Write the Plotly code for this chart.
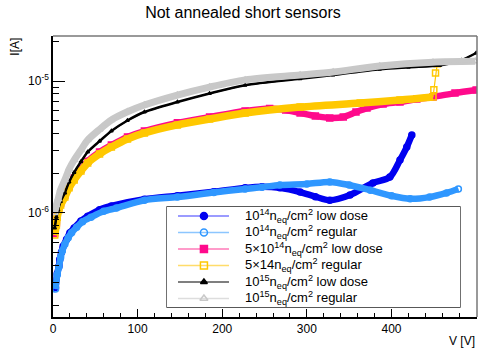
import plotly.graph_objects as go

# ---- leakage current vs bias voltage, not annealed short sensors ----

# 1e14 neq/cm2, low dose
V_1e14_ld = [3, 5, 7, 8, 10, 12, 16, 20, 25, 33, 41, 55, 69, 108, 147, 190, 227, 247, 268,
             292, 310, 327, 351, 378, 398, 410, 418, 424]
I_1e14_ld = [2.72e-7, 3.47e-7, 3.95e-7, 4.45e-7, 5.05e-7, 5.6e-7, 6.3e-7, 7.1e-7, 7.7e-7,
             8.7e-7, 9.45e-7, 1.06e-6, 1.13e-6, 1.27e-6, 1.35e-6, 1.45e-6, 1.55e-6, 1.58e-6,
             1.55e-6, 1.44e-6, 1.33e-6, 1.25e-6, 1.37e-6, 1.69e-6, 1.87e-6, 2.52e-6, 3.16e-6,
             3.90e-6]

# 1e14 neq/cm2, regular
V_1e14_reg = [3, 5, 7, 9, 11, 14, 18, 22, 28, 35, 45, 60, 75, 108, 147, 190, 227, 247, 268,
              300, 327, 350, 375, 400, 422, 445, 465, 479]
I_1e14_reg = [2.65e-7, 3.4e-7, 3.9e-7, 4.6e-7, 5.15e-7, 5.8e-7, 6.5e-7, 7.1e-7, 7.8e-7,
              8.6e-7, 9.3e-7, 1.03e-6, 1.09e-6, 1.25e-6, 1.32e-6, 1.43e-6, 1.52e-6, 1.57e-6,
              1.63e-6, 1.66e-6, 1.72e-6, 1.63e-6, 1.49e-6, 1.35e-6, 1.28e-6, 1.32e-6, 1.42e-6,
              1.52e-6]

# 5e14 neq/cm2, low dose
V_5e14_ld = [2, 4, 5, 7, 9, 14, 19, 25, 33, 41, 55, 69, 88, 108, 147, 185, 227, 256, 275,
             292, 310, 327, 343, 358, 371, 390, 410, 430, 449, 475, 500]
I_5e14_ld = [7.0e-7, 8.4e-7, 9.6e-7, 1.1e-6, 1.19e-6, 1.37e-6, 1.6e-6, 1.84e-6, 2.15e-6,
             2.47e-6, 2.9e-6, 3.27e-6, 3.77e-6, 4.18e-6, 4.82e-6, 5.33e-6, 5.93e-6, 6.2e-6,
             6.03e-6, 5.73e-6, 5.43e-6, 5.25e-6, 5.34e-6, 5.82e-6, 6.24e-6, 6.69e-6, 6.93e-6,
             7.3e-6, 7.57e-6, 8.1e-6, 8.55e-6]

# 5e14 neq/cm2, regular
V_5e14_reg = [2, 4, 5, 7, 9, 14, 19, 25, 33, 41, 55, 69, 88, 108, 147, 185, 227, 292, 363,
              410, 449, 450, 452, 454]
I_5e14_reg = [6.8e-7, 8.1e-7, 9.3e-7, 1.06e-6, 1.15e-6, 1.32e-6, 1.55e-6, 1.78e-6, 2.08e-6,
              2.39e-6, 2.8e-6, 3.16e-6, 3.64e-6, 4.04e-6, 4.65e-6, 5.15e-6, 5.73e-6, 6.35e-6,
              6.81e-6, 7.18e-6, 7.57e-6, 8.6e-6, 1.15e-5, 1.35e-5]

# 1e15 neq/cm2, low dose
V_1e15_ld = [2, 4, 6, 9, 14, 19, 25, 33, 41, 55, 69, 88, 108, 147, 185, 227, 292, 331, 386,
             420, 457, 470, 483, 500]
I_1e15_ld = [7.7e-7, 9.3e-7, 1.05e-6, 1.22e-6, 1.42e-6, 1.72e-6, 2.03e-6, 2.45e-6, 2.9e-6,
             3.5e-6, 4.18e-6, 5.02e-6, 5.82e-6, 6.93e-6, 8.05e-6, 9.3e-6, 1.04e-5, 1.11e-5,
             1.23e-5, 1.27e-5, 1.31e-5, 1.36e-5, 1.44e-5, 1.63e-5]

# 1e15 neq/cm2, regular
V_1e15_reg = [2, 4, 6, 9, 14, 19, 25, 33, 41, 55, 69, 88, 108, 147, 185, 227, 292, 331, 386,
              449, 499]
I_1e15_reg = [1.0e-6, 1.15e-6, 1.27e-6, 1.5e-6, 1.78e-6, 2.15e-6, 2.52e-6, 3.0e-6, 3.57e-6,
              4.3e-6, 5.07e-6, 5.85e-6, 6.58e-6, 7.83e-6, 9.0e-6, 1.02e-5, 1.11e-5, 1.17e-5,
              1.30e-5, 1.39e-5, 1.41e-5]

legend_labels = [
    "10<sup>14</sup>n<sub>eq</sub>/cm<sup>2</sup> low dose",
    "10<sup>14</sup>n<sub>eq</sub>/cm<sup>2</sup> regular",
    "5×10<sup>14</sup>n<sub>eq</sub>/cm<sup>2</sup> low dose",
    "5×14n<sub>eq</sub>/cm<sup>2</sup> regular",
    "10<sup>15</sup>n<sub>eq</sub>/cm<sup>2</sup> low dose",
    "10<sup>15</sup>n<sub>eq</sub>/cm<sup>2</sup> regular",
]

x_ticks = [0, 100, 200, 300, 400, 500]
y_ticks = [1e-6, 1e-5]
y_ticktext = ["10<sup>-6</sup>", "10<sup>-5</sup>"]

FONT = "Liberation Sans, Arial, Helvetica, sans-serif"

# name, V, I, colour, legend line colour, symbol, marker size, band width, band end voltage
series = [
    (legend_labels[0], V_1e14_ld, I_1e14_ld, "#0000f0", "#7a7aff", "circle", 6, 6.5, None),
    (legend_labels[1], V_1e14_reg, I_1e14_reg, "#2f97ff", "#8cc6ff", "circle-open", 6, 6.5, None),
    (legend_labels[2], V_5e14_ld, I_5e14_ld, "#ff0a8c", "#ff7ab8", "square", 6, 6.5, None),
    (legend_labels[3], V_5e14_reg, I_5e14_reg, "#ffc800", "#ffdc6a", "square-open", 6, 7.5, 449),
    (legend_labels[4], V_1e15_ld, I_1e15_ld, "#000000", "#555555", "triangle-up", 3, 2.5, None),
    (legend_labels[5], V_1e15_reg, I_1e15_reg, "#c8c8c8", "#dddddd", "triangle-up-open", 6, 7, None),
]

fig = go.Figure()

for name, V, I, col, lcol, sym, msize, bw, vend in series:
    if vend is not None:
        bx = [v for v in V if v <= vend]
        by = I[:len(bx)]
    else:
        bx, by = V, I
    # thick band traced by the densely measured points
    fig.add_trace(go.Scatter(
        x=bx, y=by, mode="lines", showlegend=False, hoverinfo="skip",
        line=dict(color=col, width=bw, shape="spline", smoothing=0.8),
    ))
    # individual measurements
    fig.add_trace(go.Scatter(
        x=V, y=I, mode="lines+markers", name=name, showlegend=False,
        line=dict(color=col, width=1.2),
        marker=dict(symbol=sym, size=msize, color=col,
                    line=dict(color=col, width=1.5)),
    ))

# ---- legend box drawn on its own small axes ----
n_rows = len(series)
row_y = [1 - (0.09 + 0.165 * i) for i in range(n_rows)]
for (name, V, I, col, lcol, sym, msize, bw, vend), yy in zip(series, row_y):
    fig.add_trace(go.Scatter(
        x=[0.0375, 0.2116], y=[yy, yy], mode="lines", xaxis="x2", yaxis="y2",
        showlegend=False, hoverinfo="skip", line=dict(color=lcol, width=1.6),
    ))
    fig.add_trace(go.Scatter(
        x=[0.126], y=[yy], mode="markers", xaxis="x2", yaxis="y2",
        showlegend=False, hoverinfo="skip",
        marker=dict(symbol=sym, size=7 if msize > 4 else 6, color=col,
                    line=dict(color=col, width=1.5)),
    ))
    fig.add_annotation(
        x=0.259, y=yy, xref="x2", yref="y2", text=name, showarrow=False,
        xanchor="left", yanchor="middle", font=dict(family=FONT, size=13, color="black"),
    )

fig.add_shape(type="rect", xref="x2 domain", yref="y2 domain", x0=0, x1=1, y0=0, y1=1,
              line=dict(color="#222222", width=1.3), fillcolor="white", layer="below")

# frame lines on top and right
fig.add_shape(type="line", xref="paper", yref="paper", x0=0, x1=1, y0=1, y1=1,
              line=dict(color="#777777", width=1.5))
fig.add_shape(type="line", xref="paper", yref="paper", x0=1, x1=1, y0=0, y1=1,
              line=dict(color="#777777", width=1.5))

minor_y = [m * 10.0 ** e for e in (-7, -6) for m in range(2, 10)] + [2e-5]

fig.update_layout(
    width=486, height=351,
    margin=dict(l=53, r=9, t=36, b=34),
    paper_bgcolor="white", plot_bgcolor="white",
    font=dict(family=FONT, color="black"),
    title=dict(text="Not annealed short sensors", x=0.5, xref="container", xanchor="center",
               y=1 - 12 / 351, yref="container", yanchor="middle",
               font=dict(family=FONT, size=16, color="black")),
    xaxis=dict(range=[0, 501], tickvals=x_ticks, ticks="inside", ticklen=8, tickwidth=1,
               tickcolor="black", showline=True, linecolor="black", linewidth=1.5,
               showgrid=False, zeroline=False, tickfont=dict(size=12),
               minor=dict(dtick=20, tick0=0, ticks="inside", ticklen=4, tickcolor="black",
                          showgrid=False)),
    yaxis=dict(type="log", range=[-6.788, -4.659], tickvals=y_ticks, ticktext=y_ticktext,
               ticks="inside", ticklen=12, tickwidth=1, tickcolor="black", showline=True,
               linecolor="black", linewidth=1.5, showgrid=False, zeroline=False,
               tickfont=dict(size=12),
               minor=dict(tickvals=minor_y, ticks="inside", ticklen=6, tickcolor="black",
                          showgrid=False)),
    xaxis2=dict(domain=[0.2689, 0.9599], range=[0, 1], visible=False, anchor="y2"),
    yaxis2=dict(domain=[0.0356, 0.3915], range=[0, 1], visible=False, anchor="x2"),
    showlegend=False,
)

fig.add_annotation(x=1, y=-0.0854, xref="paper", yref="paper", text="V [V]",
                   showarrow=False, xanchor="right", yanchor="middle",
                   font=dict(family=FONT, size=12, color="black"))
fig.add_annotation(x=-0.0896, y=0.962, xref="paper", yref="paper", text="I[A]",
                   textangle=-90, showarrow=False, xanchor="center", yanchor="middle",
                   font=dict(family=FONT, size=12, color="black"))

fig.write_html("out.html")
